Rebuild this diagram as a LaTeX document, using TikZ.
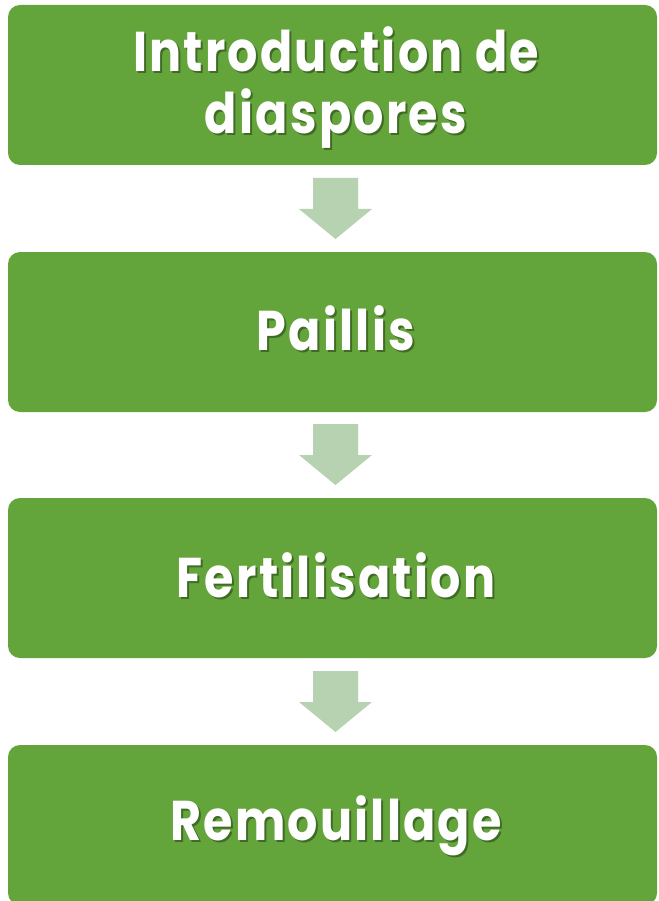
\documentclass[tikz,border=0pt]{standalone}
\usepackage{fontspec}
\newfontfamily\boxfont{Poppins}[FakeStretch=0.85,LetterSpace=4]
\usetikzlibrary{calc}
\definecolor{boxgreen}{HTML}{63A53A}
\definecolor{arrowgreen}{HTML}{B7D2B0}
\colorlet{shadowc}{boxgreen!65!black}
\newcommand{\shtext}[1]{\leavevmode\rlap{\kern2pt\raisebox{-2pt}{\textcolor{shadowc}{#1}}}#1}
\tikzset{
  stepbox/.style={fill=boxgreen, rounded corners=12pt, draw=none},
  steptext/.style={text=white, font=\boxfont\bfseries\fontsize{56}{62}\selectfont, inner sep=0pt, anchor=base},
  downarrow/.style={fill=arrowgreen, draw=none}
}
\begin{document}
\begin{tikzpicture}[x=1pt,y=-1pt]
\useasboundingbox (0,0) rectangle (658,901);
\fill[white] (0,0) rectangle (658,901);
% boxes
\path[stepbox] (8,5) rectangle (657,165);
\path[stepbox] (8,252) rectangle (657,412);
\path[stepbox] (8,498) rectangle (657,658);
\path[stepbox] (8,745) rectangle (657,905);
% texts
\node[steptext] (t1a) at (336,72) {\shtext{Introduction de}};
\node[steptext] (t1b) at (336,134) {\shtext{diaspores}};
\node[steptext] (t2) at (336,350) {\shtext{Paillis}};
\node[steptext] (t3) at (336,597) {\shtext{Fertilisation}};
\node[steptext] (t4) at (336,840) {\shtext{Remouillage}};
% arrows
\foreach \y in {178,424,671}{
  \path[downarrow] (313,\y) -- (358,\y) -- (358,\y+31) -- (372,\y+31) -- (335.5,\y+61) -- (299,\y+31) -- (313,\y+31) -- cycle;
}
\end{tikzpicture}
\end{document}
